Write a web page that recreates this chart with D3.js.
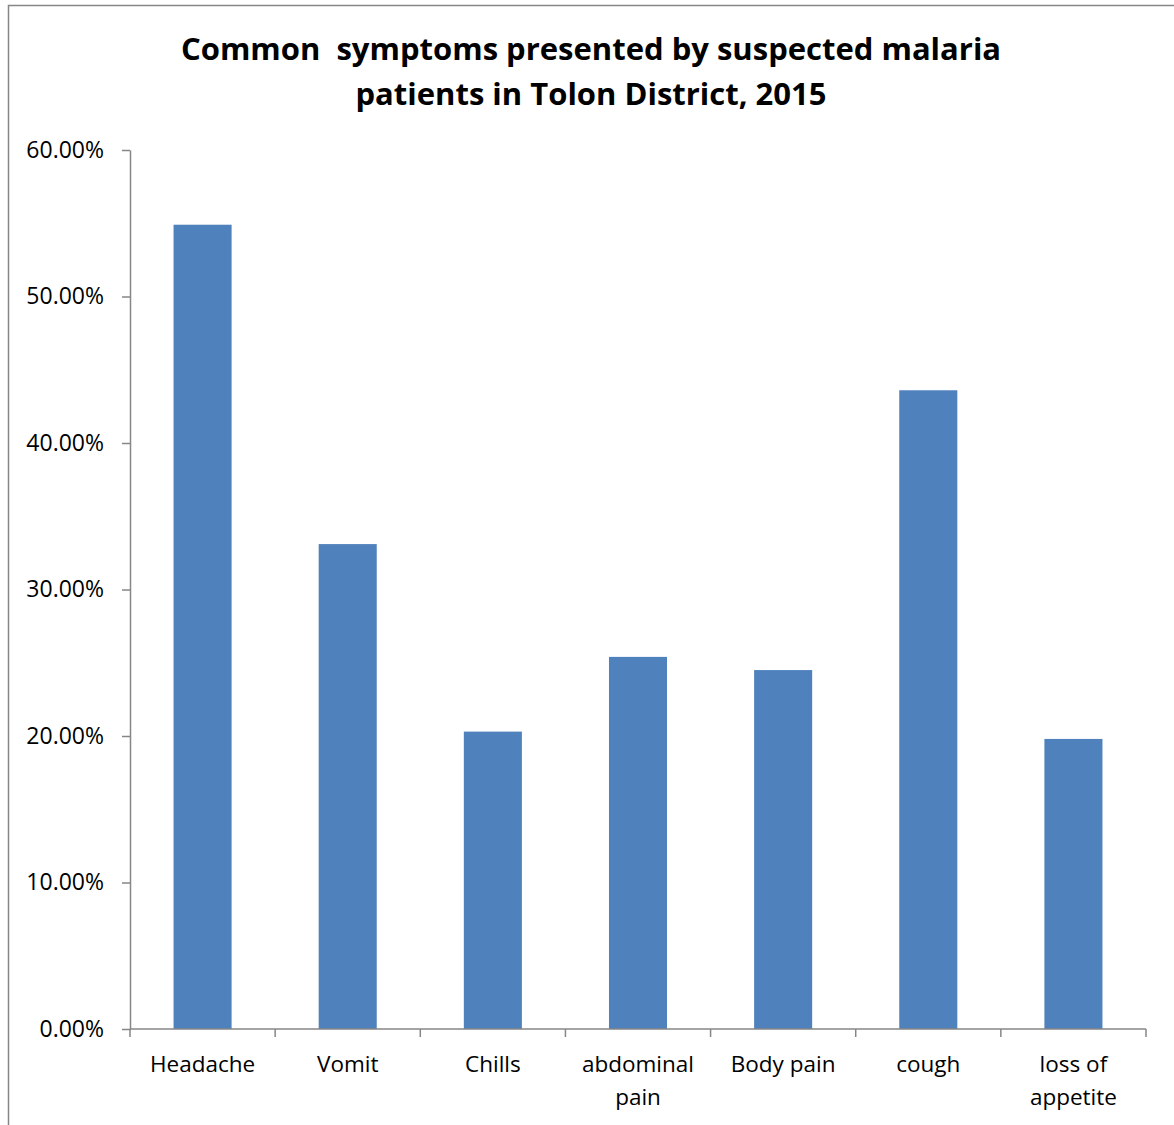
<!DOCTYPE html>
<html><head><meta charset="utf-8">
<script src="https://cdn.jsdelivr.net/npm/d3@7"></script>
<style>body{margin:0;background:#fff;} text{font-family:"Open Sans", sans-serif; white-space:pre;}</style>
</head><body><svg id="c" width="1174" height="1125"></svg>
<script>
const categories = [["Headache"],["Vomit"],["Chills"],["abdominal","pain"],["Body pain"],["cough"],["loss of","appetite"]];
const values = [0.549, 0.331, 0.203, 0.254, 0.245, 0.436, 0.198];
const yTicks = [0,0.1,0.2,0.3,0.4,0.5,0.6];
const titleLines = ["Common  symptoms presented by suspected malaria","patients in Tolon District, 2015"];

const svg = d3.select("#c");
svg.append("rect").attr("x",8.5).attr("y",5.5).attr("width",1200).attr("height",1200)
  .attr("fill","#fff").attr("stroke","#868686").attr("stroke-width",1.5);

const m = {l:130, r:1146, t:150, b:1029};
const x = d3.scaleBand().domain(d3.range(categories.length)).range([m.l,m.r]).paddingInner(0.6).paddingOuter(0.3);
const y = d3.scaleLinear().domain([0,0.6]).range([m.b,m.t]);

svg.selectAll("rect.bar").data(values).join("rect").attr("class","bar")
  .attr("x",(d,i)=>x(i)).attr("width",x.bandwidth())
  .attr("y",d=>y(d)).attr("height",d=>m.b-y(d)).attr("fill","#4F81BD");

const ya = svg.append("g").attr("transform",`translate(${m.l},0)`)
  .call(d3.axisLeft(y).tickValues(yTicks).tickFormat(d3.format(".2%")).tickSize(8).tickPadding(18).tickSizeOuter(0));
ya.select(".domain").attr("stroke","#868686").attr("stroke-width",1.5);
ya.selectAll("line").attr("stroke","#868686").attr("stroke-width",1.5);
ya.selectAll("text").attr("font-size",23).attr("fill","#000").attr("font-family","Open Sans");

const xa = svg.append("g").attr("transform",`translate(0,${m.b})`);
xa.append("line").attr("x1",m.l).attr("x2",m.r).attr("stroke","#868686").attr("stroke-width",1.5);
const edges = d3.range(categories.length+1).map(i => m.l + i*(m.r-m.l)/categories.length);
xa.selectAll("line.tk").data(edges).join("line").attr("class","tk")
  .attr("x1",d=>d).attr("x2",d=>d).attr("y1",0).attr("y2",8).attr("stroke","#868686").attr("stroke-width",1.5);
categories.forEach((lines,i)=>{
  const cx = x(i)+x.bandwidth()/2;
  lines.forEach((t,j)=>{
    xa.append("text").attr("x",cx).attr("y",43+j*33).attr("text-anchor","middle")
      .attr("font-size",22.5).attr("fill","#000").text(t);
  });
});

titleLines.forEach((t,j)=>{
  svg.append("text").attr("x",591).attr("y",60+j*45).attr("text-anchor","middle")
    .attr("font-size",31).attr("font-weight","bold").attr("fill","#000").text(t);
});
</script></body></html>
